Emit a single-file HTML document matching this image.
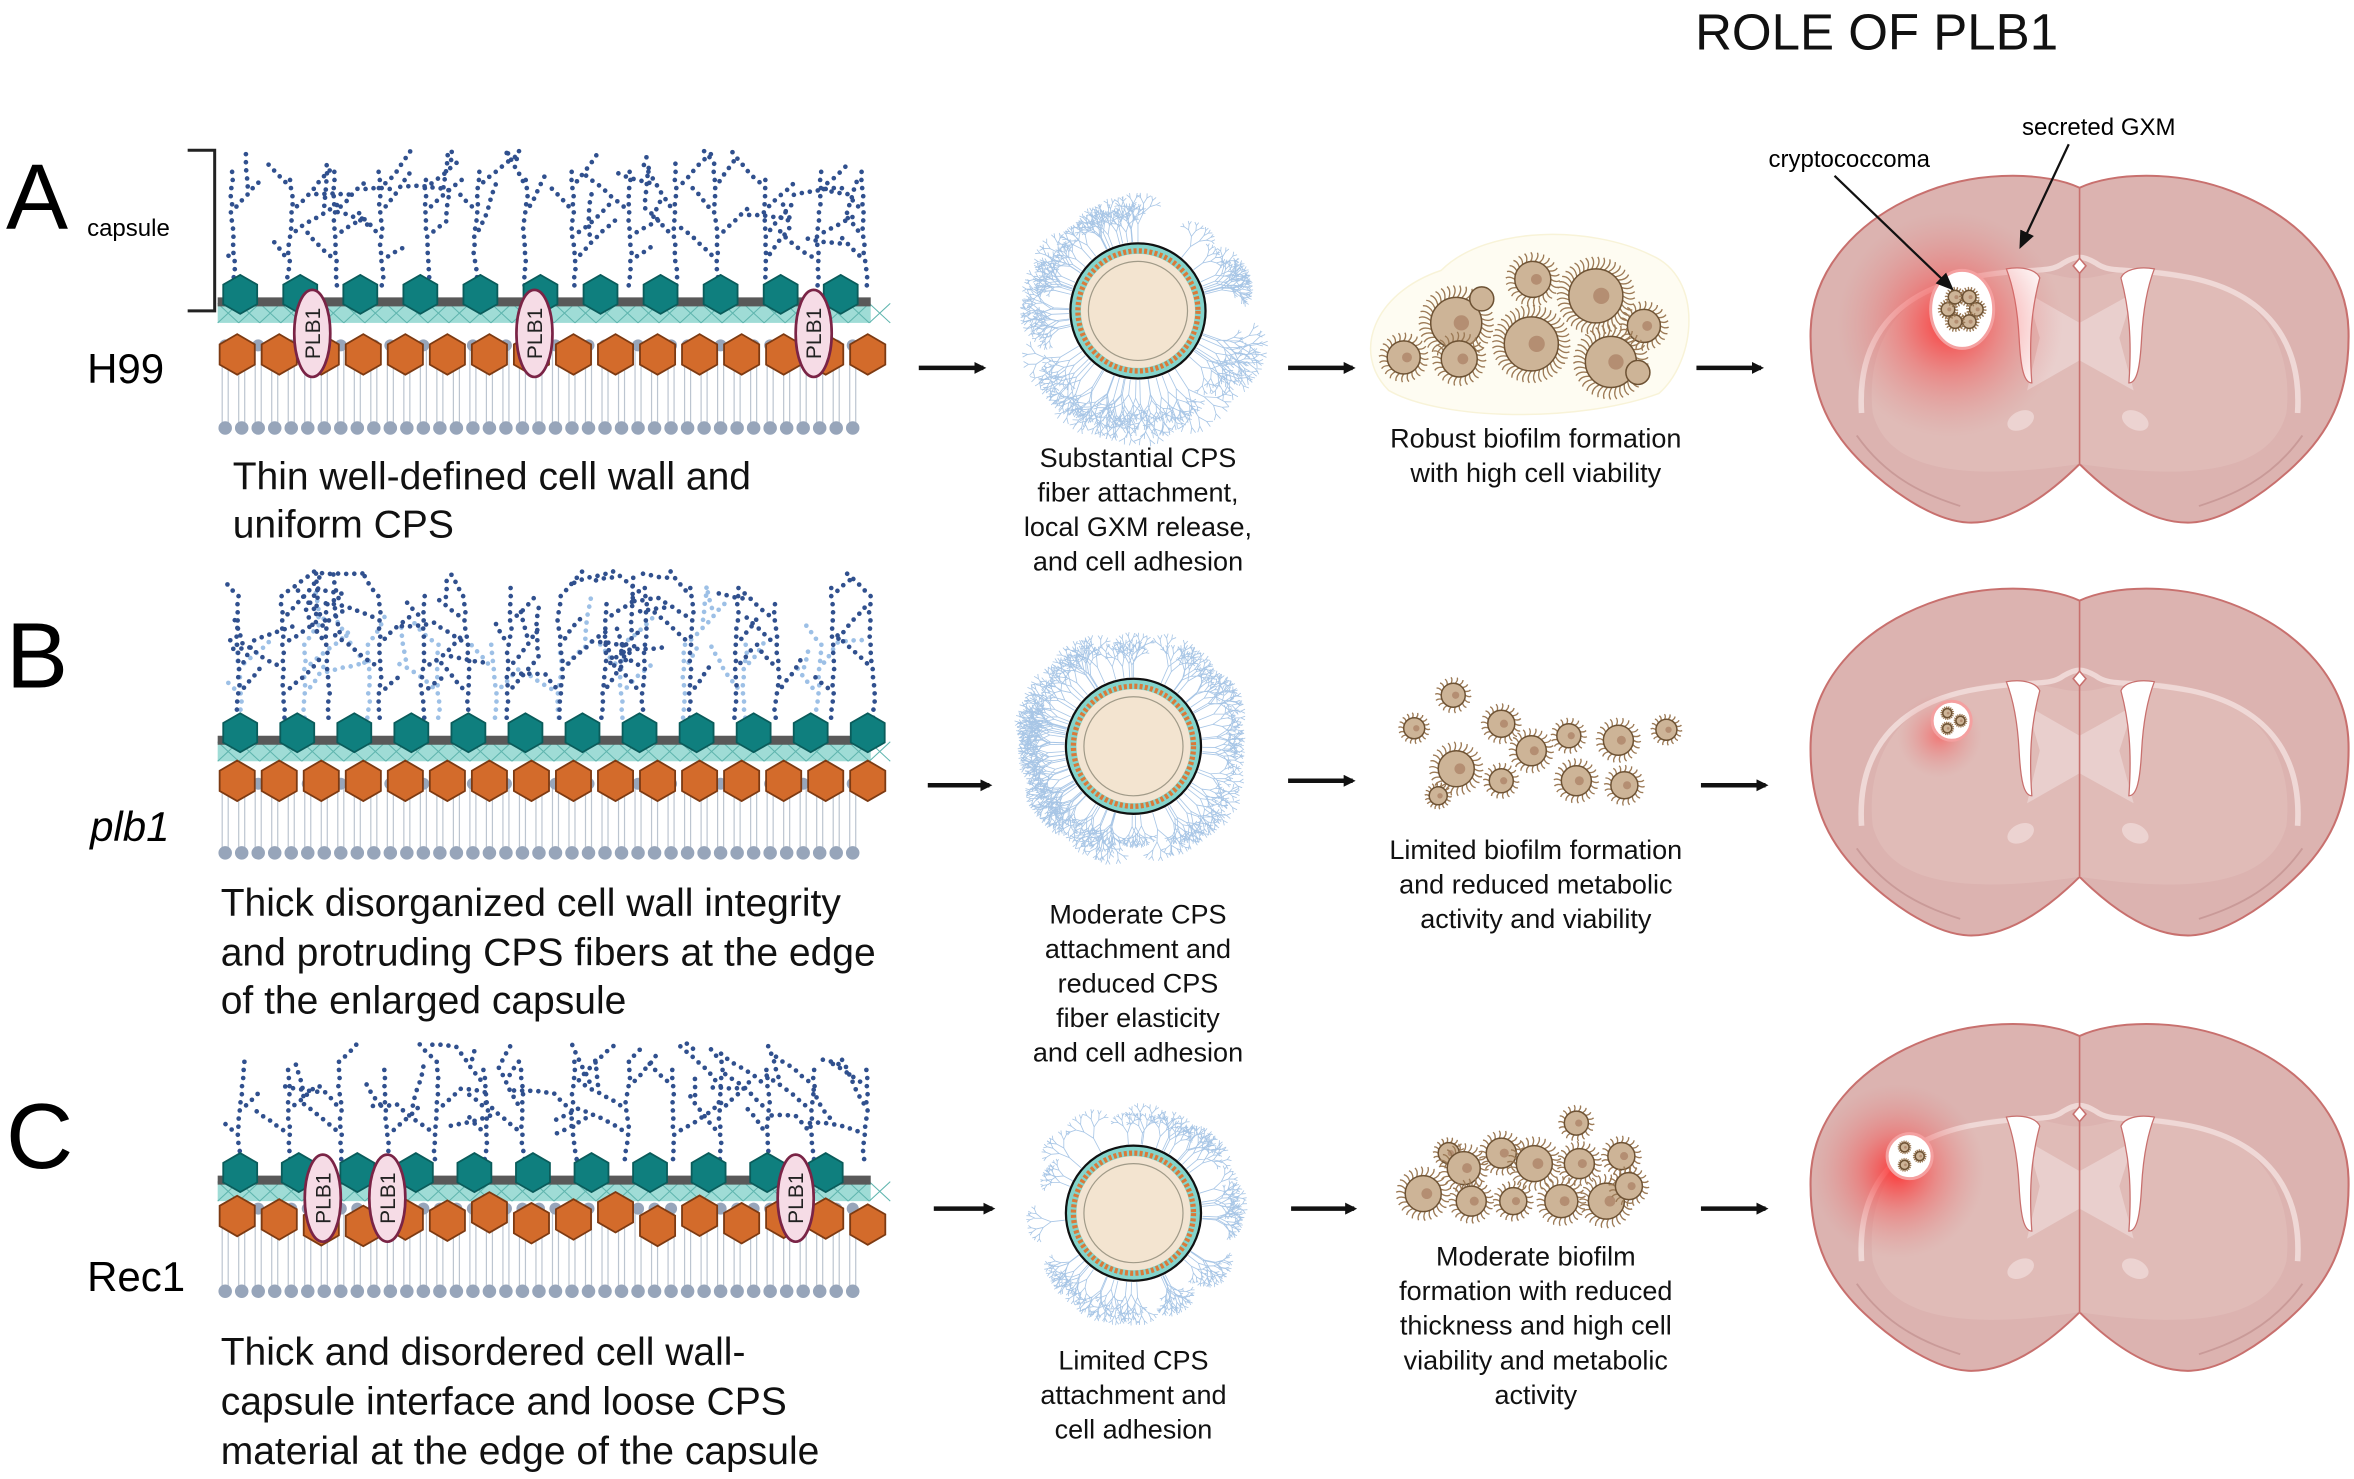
<!DOCTYPE html>
<html><head><meta charset="utf-8"><style>
html,body{margin:0;padding:0;background:#fff;}
svg{display:block;}
text{font-family:"Liberation Sans",sans-serif;}
</style></head><body>
<svg id="s" width="2354" height="1479" viewBox="0 0 1568 985" xmlns="http://www.w3.org/2000/svg">
<defs>
<radialGradient id="glow"><stop offset="0" stop-color="#ff2a2a" stop-opacity="0.9"/><stop offset="0.45" stop-color="#f45050" stop-opacity="0.45"/><stop offset="1" stop-color="#e08080" stop-opacity="0"/></radialGradient>
<radialGradient id="glow2"><stop offset="0" stop-color="#ff4040" stop-opacity="0.55"/><stop offset="1" stop-color="#e08080" stop-opacity="0"/></radialGradient>
<marker id="ah" markerWidth="8" markerHeight="8" refX="6" refY="4" orient="auto" markerUnits="userSpaceOnUse"><path d="M0,0 L8,4 L0,8 z" fill="#111"/></marker>
<marker id="ah2" markerWidth="12" markerHeight="10" refX="10" refY="5" orient="auto" markerUnits="userSpaceOnUse"><path d="M0,0 L12,5 L0,10 z" fill="#111"/></marker>
</defs>
<text x="1250" y="33" font-size="34" text-anchor="middle" fill="#111">ROLE OF PLB1</text>
<text x="4" y="152" font-size="62" fill="#000">A</text>
<text x="4" y="458" font-size="62" fill="#000">B</text>
<text x="4" y="778" font-size="62" fill="#000">C</text>
<text x="58" y="157" font-size="16">capsule</text>
<path d="M125,100 H143 V207 H125" fill="none" stroke="#222" stroke-width="2"/>
<text x="58" y="255" font-size="28">H99</text>
<text x="60" y="560" font-size="28" font-style="italic">plb1</text>
<text x="58" y="860" font-size="28">Rec1</text>
<g font-size="26" fill="#111">
<text x="155" y="326">Thin well-defined cell wall and</text>
<text x="155" y="358">uniform CPS</text>
<text x="147" y="610">Thick disorganized cell wall integrity</text>
<text x="147" y="643">and protruding CPS fibers at the edge</text>
<text x="147" y="675">of the enlarged capsule</text>
<text x="147" y="909">Thick and disordered cell wall-</text>
<text x="147" y="942">capsule interface and loose CPS</text>
<text x="147" y="975">material at the edge of the capsule</text>
</g>
<g font-size="18" fill="#111" text-anchor="middle">
<text x="758" y="311">Substantial CPS</text><text x="758" y="334">fiber attachment,</text><text x="758" y="357">local GXM release,</text><text x="758" y="380">and cell adhesion</text>
<text x="758" y="615">Moderate CPS</text><text x="758" y="638">attachment and</text><text x="758" y="661">reduced CPS</text><text x="758" y="684">fiber elasticity</text><text x="758" y="707">and cell adhesion</text>
<text x="755" y="912">Limited CPS</text><text x="755" y="935">attachment and</text><text x="755" y="958">cell adhesion</text>
<text x="1023" y="298">Robust biofilm formation</text><text x="1023" y="321">with high cell viability</text>
<text x="1023" y="572">Limited biofilm formation</text><text x="1023" y="595">and reduced metabolic</text><text x="1023" y="618">activity and viability</text>
<text x="1023" y="843">Moderate biofilm</text><text x="1023" y="866">formation with reduced</text><text x="1023" y="889">thickness and high cell</text><text x="1023" y="912">viability and metabolic</text><text x="1023" y="935">activity</text>
</g>
<g stroke="#111" stroke-width="3" marker-end="url(#ah)">
<line x1="612" y1="245" x2="655" y2="245"/><line x1="858" y1="245" x2="901" y2="245"/><line x1="1130" y1="245" x2="1173" y2="245"/>
<line x1="618" y1="523" x2="659" y2="523"/><line x1="858" y1="520" x2="901" y2="520"/><line x1="1133" y1="523" x2="1176" y2="523"/>
<line x1="622" y1="805" x2="661" y2="805"/><line x1="860" y1="805" x2="902" y2="805"/><line x1="1133" y1="805" x2="1176" y2="805"/>
</g>
<g id="gen"></g>
<text x="1178" y="111" font-size="16">cryptococcoma</text>
<text x="1398" y="90" font-size="16" text-anchor="middle">secreted GXM</text>
<g stroke="#111" stroke-width="1.5" marker-end="url(#ah2)">
<line x1="1222" y1="117" x2="1300" y2="192"/><line x1="1378" y1="96" x2="1346" y2="164"/>
</g>
</svg>
<script>
var G=document.getElementById("gen");
var seed=11;function R(){seed=(seed*16807)%2147483647;return seed/2147483647;}
var out=[];var TOP=0,BOT=0;
function dot(x,y,r,c){out.push('<circle cx="'+x.toFixed(1)+'" cy="'+y.toFixed(1)+'" r="'+r+'" fill="'+c+'"/>');}
function hex(cx,cy,r,f,s){var p=[];for(var i=0;i<6;i++){var a=Math.PI/3*i+Math.PI/6;p.push((cx+r*Math.cos(a)).toFixed(1)+','+(cy+r*Math.sin(a)).toFixed(1));}out.push('<polygon points="'+p.join(' ')+'" fill="'+f+'" stroke="'+s+'" stroke-width="1.2"/>');}
function chain(x,y,ang,n,c,depth){for(var j=0;j<n;j++){ang+=(R()-0.5)*0.25;var nx=x+5.4*Math.cos(ang),ny=y+5.4*Math.sin(ang);if(ny<TOP||ny>BOT||nx<150||nx>578)return;x=nx;y=ny;dot(x,y,1.55,c);if(depth>0&&j>1&&R()<0.18){chain(x,y,ang+(R()<0.5?-0.8:0.8),3+Math.floor(R()*4),c,depth-1);}}}
function tree(x,yb,yt,c){var y=yb,k=0;var up=-Math.PI/2;while(y>yt){x+=(R()-0.5)*2;dot(x,y,1.55,c);if(k>1&&k%3==0&&R()<0.75){var d=R()<0.5?-1:1;chain(x,y,up+d*(0.6+R()*0.4),3+Math.floor(R()*5),c,1);}y-=5.4;k++;}}
function membrane(o){
 var x0=145,x1=580;TOP=o.pt;BOT=o.pb;
 for(var x=150;x<=578;x+=11){out.push('<line x1="'+(x-2)+'" y1="'+o.lt+'" x2="'+(x-2)+'" y2="'+o.lb+'" stroke="#bcc5d0" stroke-width="0.8"/><line x1="'+(x+2)+'" y1="'+o.lt+'" x2="'+(x+2)+'" y2="'+o.lb+'" stroke="#bcc5d0" stroke-width="0.8"/>');dot(x,o.lt,4,"#97a5ba");dot(x,o.lb,4.5,"#97a5ba");}
 if(o.light){for(var t=x0+15;t<x1;t+=42){tree(t+R()*8,o.pb,o.pb-50,"#9dc0e6");}}
 for(var t=x0+12;t<x1;t+=o.ts){tree(t+R()*6,o.pb,o.pt+8+R()*10,"#30508e");}
 out.push('<rect x="'+x0+'" y="'+(o.hy+6)+'" width="'+(x1-x0)+'" height="13" fill="#9fdcd6"/>');
 for(var x=x0;x<x1;x+=14){out.push('<line x1="'+x+'" y1="'+(o.hy+6)+'" x2="'+(x+14)+'" y2="'+(o.hy+19)+'" stroke="#5fb5ae" stroke-width="0.7"/><line x1="'+(x+14)+'" y1="'+(o.hy+6)+'" x2="'+x+'" y2="'+(o.hy+19)+'" stroke="#5fb5ae" stroke-width="0.7"/>');}
 out.push('<rect x="'+x0+'" y="'+(o.hy+2)+'" width="'+(x1-x0)+'" height="6" fill="#595959"/>');
 for(var x=160;x<x1;x+=o.hs)hex(x,o.hy,13,"#0f7f7e","#0a5c5b");
 for(var x=158;x<x1;x+=28){var dy=o.jit?(R()-0.5)*10:0;hex(x,o.oy+dy,13.5,"#d36b2b","#7d3a12");}
 (o.plb||[]).forEach(function(px){out.push('<ellipse cx="'+px+'" cy="'+o.py+'" rx="12" ry="29" fill="#f6dce6" stroke="#7a2446" stroke-width="1.8"/><text transform="translate('+(px+5)+','+o.py+') rotate(-90)" font-size="14" text-anchor="middle" fill="#222">PLB1</text>');});
}
membrane({pt:100,pb:190,ts:32,hy:196,hs:40,oy:236,lt:230,lb:285,plb:[208,356,542],py:222});
membrane({pt:380,pb:478,ts:30,light:true,hy:488,hs:38,oy:520,lt:522,lb:568});
membrane({pt:695,pb:772,ts:32,hy:781,hs:39,oy:812,jit:true,lt:805,lb:860,plb:[215,258,530],py:798});
function br(x,y,a,l,d,p){var ex=x+l*Math.cos(a),ey=y+l*Math.sin(a);p.push('M'+x.toFixed(1)+','+y.toFixed(1)+'L'+ex.toFixed(1)+','+ey.toFixed(1));if(d>0){br(ex,ey,a-0.45+(R()-0.5)*0.3,l*0.72,d-1,p);br(ex,ey,a+0.45+(R()-0.5)*0.3,l*0.72,d-1,p);}}
function cell(cx,cy,n,len,skew){var p=[];for(var i=0;i<n;i++){var a=R()*6.283;var L=len*(0.7+R()*0.5);if(skew&&Math.sin(a)>0.3)L*=1.35;br(cx+46*Math.cos(a),cy+46*Math.sin(a),a,L,4,p);}
 out.push('<path d="'+p.join('')+'" fill="none" stroke="#a8c6e6" stroke-width="0.55"/>');
 out.push('<circle cx="'+cx+'" cy="'+cy+'" r="45" fill="#84d4cb" stroke="#111" stroke-width="1.5"/><circle cx="'+cx+'" cy="'+cy+'" r="40" fill="none" stroke="#d97a3a" stroke-width="3.5" stroke-dasharray="2 1.5"/><circle cx="'+cx+'" cy="'+cy+'" r="38" fill="#f2e4d2"/><circle cx="'+cx+'" cy="'+cy+'" r="33" fill="#f3e4d0" stroke="#a09a88" stroke-width="0.8"/>');}
cell(758,207,70,10,true);cell(755,497,90,10.5,false);cell(755,808,45,9,false);
function bc(cx,cy,r,bud){var s=[];var n=Math.max(18,Math.round(r*2.2));for(var i=0;i<n;i++){var a=i*6.283/n;var L=Math.min(8,r*0.5);s.push('M'+(cx+r*Math.cos(a)).toFixed(1)+','+(cy+r*Math.sin(a)).toFixed(1)+'Q'+(cx+(r+L*0.6)*Math.cos(a+0.15)).toFixed(1)+','+(cy+(r+L*0.6)*Math.sin(a+0.15)).toFixed(1)+' '+(cx+(r+L)*Math.cos(a+0.05)).toFixed(1)+','+(cy+(r+L)*Math.sin(a+0.05)).toFixed(1));}
 out.push('<path d="'+s.join('')+'" fill="none" stroke="#9c7a56" stroke-width="0.9"/><circle cx="'+cx+'" cy="'+cy+'" r="'+r+'" fill="#cdb497" stroke="#6d5234" stroke-width="1"/><circle cx="'+(cx+r*0.2)+'" cy="'+cy+'" r="'+(r*0.3)+'" fill="#b48e72"/>');
 if(bud){out.push('<circle cx="'+bud[0]+'" cy="'+bud[1]+'" r="'+bud[2]+'" fill="#cdb497" stroke="#6d5234" stroke-width="1"/>');}}
out.push('<path d="M925,260 C900,235 915,195 960,180 C990,150 1060,150 1100,170 C1135,185 1130,240 1105,262 C1050,282 960,280 925,260 Z" fill="#fefcf2" stroke="#f8f3d8"/>');
[[970,215,17,[987,199,8]],[1021,186,12],[1063,197,18],[1095,217,11],[935,238,11],[972,239,12],[1020,229,18],[1073,241,17,[1091,248,8]]].forEach(function(c){bc(c[0],c[1],c[2],c[3]);});
[[968,463,8],[942,485,7],[970,512,12],[1000,482,9],[1020,500,10],[1045,490,8],[1050,520,10],[1078,493,10],[1082,523,9],[1110,486,7],[958,530,6],[1000,520,8]].forEach(function(c){bc(c[0],c[1],c[2]);});
[[965,768,7],[975,778,11],[1000,768,10],[1022,775,12],[1050,748,8],[1052,775,10],[1080,770,9],[948,795,12],[980,800,10],[1008,800,9],[1040,800,11],[1070,800,12],[1085,790,9]].forEach(function(c){bc(c[0],c[1],c[2]);});
function brain(ox,oy,g){
 var T='translate('+ox+','+oy+') scale(1.06,1)';
 out.push('<g transform="'+T+'">');
 out.push('<path d="M170,10 C150,0 110,-2 75,12 C30,30 2,65 1,105 C0,150 15,175 35,195 C55,215 80,232 100,233 C125,234 150,215 170,194 C190,215 215,234 240,233 C260,232 285,215 305,195 C325,175 340,150 339,105 C338,65 310,30 265,12 C230,-2 190,0 170,10 Z" fill="#dcb3b0" stroke="#c8706e" stroke-width="1.3"/>');
 out.push('<path d="M40,160 C35,110 60,75 110,66 C140,60 160,72 170,70 C180,72 200,60 230,66 C280,75 305,110 300,160 C290,200 240,205 170,194 C100,205 50,200 40,160 Z" fill="#e2c0bd" opacity="0.6"/>');
 out.push('<path d="M137,80 L170,100 L204,80 L195,110 L204,145 L170,125 L137,145 L145,110 Z" fill="#e9cfcd"/>');
 out.push('<path d="M33,160 C30,110 55,80 100,70 C140,62 150,68 160,60 C168,55 172,55 180,60 C190,68 200,62 240,70 C285,80 310,110 307,160" fill="none" stroke="#efd8d6" stroke-width="3.5"/>');
 out.push('<path d="M124,64 C135,62 143,65 145,70 C140,90 138,110 140,140 C135,140 133,130 132,110 C131,90 128,75 124,64 Z M217,64 C206,62 198,65 196,70 C201,90 203,110 201,140 C206,140 208,130 209,110 C210,90 213,75 217,64 Z" fill="#fff" stroke="#c8706e" stroke-width="0.8"/>');
 out.push('<path d="M170,10 V194" stroke="#c8706e" stroke-width="1"/><path d="M166,62 L170,57 L174,62 L170,67 Z" fill="#fff" stroke="#c8706e"/>');
 out.push('<ellipse cx="133" cy="165" rx="9" ry="6" fill="#ecd3d1" transform="rotate(-30 133 165)"/><ellipse cx="205" cy="165" rx="9" ry="6" fill="#ecd3d1" transform="rotate(30 205 165)"/>');
 out.push('<path d="M30,175 C50,205 75,215 95,222 M310,175 C290,205 265,215 245,222" fill="none" stroke="#c99a98" stroke-width="1.2"/>');
 out.push('</g>');
 g.forEach(function(q){out.push('<circle cx="'+(q[0]-8)+'" cy="'+(q[1]+10)+'" r="'+q[2]+'" fill="url(#'+q[5]+')"/><ellipse cx="'+q[0]+'" cy="'+q[1]+'" rx="'+q[3]+'" ry="'+q[4]+'" fill="#fff" stroke="#f4a0a0" stroke-width="2"/>');var n=q[3]>15?6:3;for(var i=0;i<n;i++){var a=i*6.283/n;bc(q[0]+q[3]*0.45*Math.cos(a),q[1]+q[3]*0.45*Math.sin(a),q[3]>15?4.5:3);}});
}
brain(1205,115,[[1307,206,75,21,26,"glow"]]);
brain(1205,390,[[1300,480,28,13,13,"glow2"]]);
brain(1205,680,[[1272,770,58,15,15,"glow"]]);
G.innerHTML=out.join('');
</script>
</body></html>
